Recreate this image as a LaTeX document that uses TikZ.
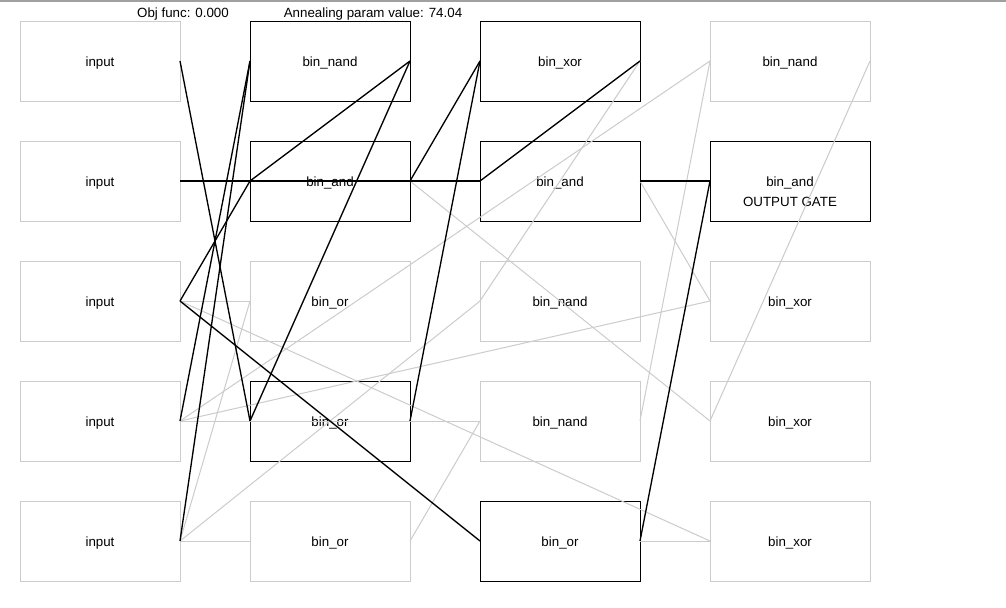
\documentclass[tikz,border=0pt]{standalone}
\usepackage{fontspec}
\setmainfont{Liberation Sans}
\definecolor{boxgray}{RGB}{204,204,204}
\definecolor{linegray}{RGB}{204,204,204}
\definecolor{framegray}{RGB}{160,160,160}
\begin{document}
\begin{tikzpicture}[x=0.75pt,y=-0.75pt,
  box/.style={draw=boxgray, line width=0.75pt, minimum width=120pt, minimum height=60pt,
    inner sep=0pt, outer sep=0pt, text height=8.2pt, text depth=0pt,
    font=\fontsize{10}{12}\selectfont},
  act/.style={box, draw=black},
  off/.style={draw=linegray, line width=0.75pt},
  on/.style={draw=black, line width=1pt},
  ttl/.style={inner sep=0pt, text height=8.2pt, text depth=0pt, font=\fontsize{10}{12}\selectfont}]
\useasboundingbox (0,0) rectangle (1006,607);
\fill[white] (0,0) rectangle (1006,607);
\draw[framegray, line width=1.5pt] (0,0.5) -- (1006,0.5);
% titles
\node[ttl] (obj) at (183,12) {Obj func: 0.000};
\node[ttl] (ann) at (373,12) {Annealing param value: 74.04};
% column 0: inputs
\node[box] (i1) at (100,61) {input};
\node[box] (i2) at (100,181) {input};
\node[box] (i3) at (100,301) {input};
\node[box] (i4) at (100,421) {input};
\node[box] (i5) at (100,541) {input};
% column 1
\node[act] (a1) at (330,61) {bin\_nand};
\node[act] (a2) at (330,181) {bin\_and};
\node[box] (a3) at (330,301) {bin\_or};
\node[act] (a4) at (330,421) {bin\_or};
\node[box] (a5) at (330,541) {bin\_or};
% column 2
\node[act] (b1) at (560,61) {bin\_xor};
\node[act] (b2) at (560,181) {bin\_and};
\node[box] (b3) at (560,301) {bin\_nand};
\node[box] (b4) at (560,421) {bin\_nand};
\node[act] (b5) at (560,541) {bin\_or};
% column 3
\node[box] (c1) at (790,61) {bin\_nand};
\node[act] (c2) at (790,181) {bin\_and};
\node[ttl] (c2out) at (790,201) {OUTPUT GATE};
\node[box] (c3) at (790,301) {bin\_xor};
\node[box] (c4) at (790,421) {bin\_xor};
\node[box] (c5) at (790,541) {bin\_xor};
% inactive connections
\draw[off] (i3.east) -- (a3.west);
\draw[off] (i5.east) -- (a3.west);
\draw[off] (i5.east) -- (a5.west);
\draw[off] (i4.east) -- (b4.west);
\draw[off] (a5.east) -- (b4.west);
\draw[off] (i5.east) -- (b3.west);
\draw[off] (b1.east) -- (b3.west);
\draw[off] (i4.east) -- (c1.west);
\draw[off] (b4.east) -- (c1.west);
\draw[off] (i4.east) -- (c3.west);
\draw[off] (b2.east) -- (c3.west);
\draw[off] (a2.east) -- (c4.west);
\draw[off] (c1.east) -- (c4.west);
\draw[off] (b5.east) -- (c5.west);
\draw[off] (i3.east) -- (c5.west);
% active connections
\draw[on] (i4.east) -- (a1.west);
\draw[on] (i5.east) -- (a1.west);
\draw[on] (i1.east) -- (a4.west);
\draw[on] (a1.east) -- (a4.west);
\draw[on] (i3.east) -- (a2.west);
\draw[on] (a1.east) -- (a2.west);
\draw[on] (i2.east) -- (b2.west);
\draw[on] (a2.east) -- (b1.west);
\draw[on] (a4.east) -- (b1.west);
\draw[on] (b1.east) -- (b2.west);
\draw[on] (i3.east) -- (b5.west);
\draw[on] (b2.east) -- (c2.west);
\draw[on] (b5.east) -- (c2.west);
\end{tikzpicture}
\end{document}
